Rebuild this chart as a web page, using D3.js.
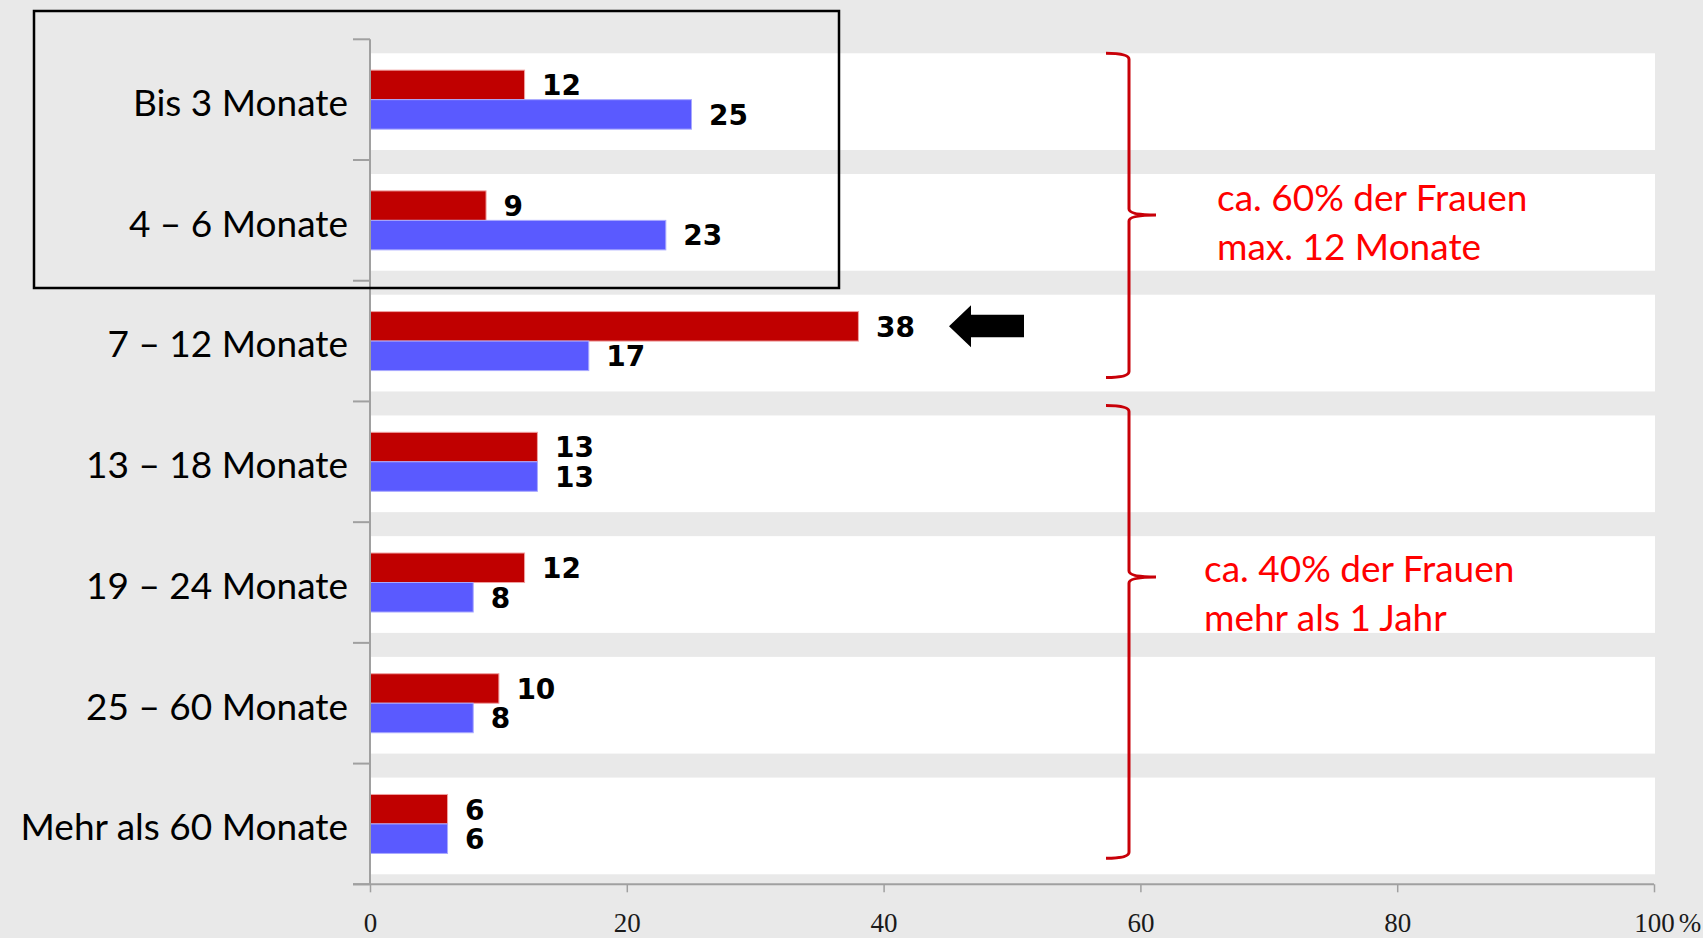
<!DOCTYPE html>
<html>
<head>
<meta charset="utf-8">
<script src="https://cdn.jsdelivr.net/npm/d3@7"></script>
<style>
  html, body { margin: 0; padding: 0; background: #e9e9e9; }
  svg { display: block; }
</style>
</head>
<body>
<svg id="chart" width="1703" height="938"></svg>
<script>
// Dauer in Monaten, Anteile in Prozent
const categories = ["Bis 3 Monate", "4 – 6 Monate", "7 – 12 Monate", "13 – 18 Monate",
                    "19 – 24 Monate", "25 – 60 Monate", "Mehr als 60 Monate"];
const frauen  = [12, 9, 38, 13, 12, 10, 6];
const maenner = [25, 23, 17, 13, 8, 8, 6];
const xTicks = [0, 20, 40, 60, 80, 100];
const noteTop = ["ca. 60% der Frauen", "max. 12 Monate"];
const noteBottom = ["ca. 40% der Frauen", "mehr als 1 Jahr"];

const svg = d3.select("#chart");
const plotLeft = 370, plotRight = 1654, plotTop = 39.3, plotBottom = 884.3;

const x = d3.scaleLinear().domain([0, 100]).range([plotLeft, plotRight]);
const y = d3.scaleBand().domain(categories).range([plotTop, plotBottom]).padding(0);
const bw = y.bandwidth();

const RED = "#c00000", BLUE = "#5a5aff";

// weiße Streifen je Kategorie
svg.append("g").selectAll("rect")
  .data(categories).join("rect")
  .attr("x", x(0)).attr("width", x(100) - x(0) + 1)
  .attr("y", d => y(d) + 14)
  .attr("height", bw - 24)
  .attr("fill", "#ffffff");

// Balken
const series = [
  { key: "frauen", values: frauen, color: RED, light: "#f0a0a0" },
  { key: "maenner", values: maenner, color: BLUE, light: "#a9a9ff" }
];
const barH = 29.5;
const sub = d3.scaleBand().domain(series.map(s => s.key)).range([-barH, barH]).padding(0);

const bars = svg.append("g");
series.forEach(s => {
  bars.selectAll("rect." + s.key)
    .data(categories).join("rect")
    .attr("class", s.key)
    .attr("x", x(0) + 0.5)
    .attr("y", d => y(d) + bw / 2 + sub(s.key))
    .attr("width", (d, i) => x(s.values[i]) - x(0))
    .attr("height", sub.bandwidth())
    .attr("fill", s.color)
    .attr("stroke", s.light)
    .attr("stroke-width", 1);
});

// Werte
series.forEach(s => {
  bars.selectAll("text." + s.key)
    .data(categories).join("text")
    .attr("class", s.key)
    .attr("x", (d, i) => x(s.values[i]) + 18)
    .attr("y", d => y(d) + bw / 2 + sub(s.key) + sub.bandwidth() / 2)
    .attr("dy", "0.37em")
    .attr("font-family", "'DejaVu Sans', Verdana, sans-serif")
    .attr("font-weight", "bold")
    .attr("font-size", 28)
    .attr("fill", "#000")
    .text((d, i) => s.values[i]);
});

// y-Achse: Linie, Trennstriche, Beschriftung
const axisColor = "#a0a0a0";
svg.append("line")
  .attr("x1", plotLeft).attr("x2", plotLeft)
  .attr("y1", plotTop).attr("y2", plotBottom)
  .attr("stroke", axisColor).attr("stroke-width", 2);
const bounds = categories.map(c => y(c)).concat([plotBottom]);
svg.append("g").selectAll("line")
  .data(bounds).join("line")
  .attr("x1", plotLeft - 17).attr("x2", plotLeft)
  .attr("y1", d => d).attr("y2", d => d)
  .attr("stroke", axisColor).attr("stroke-width", 2);

const yAxis = svg.append("g")
  .attr("transform", `translate(${plotLeft},0)`)
  .call(d3.axisLeft(y).tickSize(0).tickPadding(22));
yAxis.select(".domain").remove();
yAxis.selectAll("text")
  .attr("font-family", "Lato, 'Open Sans', sans-serif")
  .attr("font-size", 37)
  .attr("fill", "#000")
  .attr("dy", "0.44em");

// x-Achse
const xAxis = svg.append("g")
  .attr("transform", `translate(0,${plotBottom})`)
  .call(d3.axisBottom(x).tickValues(xTicks).tickSize(8).tickPadding(21)
        .tickFormat(d => d));
xAxis.select(".domain")
  .attr("d", `M${plotLeft - 17},0H${plotRight}`)
  .attr("stroke", axisColor).attr("stroke-width", 2);
xAxis.selectAll(".tick line").attr("stroke", axisColor).attr("stroke-width", 1.5);
xAxis.selectAll(".tick text")
  .attr("font-family", "'Liberation Serif', 'Times New Roman', serif")
  .attr("font-size", 27)
  .attr("fill", "#1a1a1a");
// Prozentzeichen hinter dem letzten Wert
const lastTick = xAxis.selectAll(".tick").filter(d => d === 100);
const lastText = lastTick.select("text");
const halfW = lastText.node().getComputedTextLength() / 2;
lastTick.append("text")
  .attr("x", halfW + 4)
  .attr("y", lastText.attr("y"))
  .attr("dy", lastText.attr("dy"))
  .attr("text-anchor", "start")
  .attr("font-family", "'Liberation Serif', 'Times New Roman', serif")
  .attr("font-size", 27)
  .attr("fill", "#1a1a1a")
  .text("%");

// Geschweifte Klammern
function brace(x0, xLine, xTip, yTop, yMid, yBot) {
  const r = 6;
  return `M${x0},${yTop} Q${xLine},${yTop} ${xLine},${yTop + r}` +
         ` L${xLine},${yMid - r} Q${xLine},${yMid} ${xTip},${yMid}` +
         ` Q${xLine},${yMid} ${xLine},${yMid + r}` +
         ` L${xLine},${yBot - r} Q${xLine},${yBot} ${x0},${yBot}`;
}
const braceG = svg.append("g")
  .attr("fill", "none").attr("stroke", "#c80008").attr("stroke-width", 3);
braceG.append("path").attr("d", brace(1106, 1129, 1156, y(categories[0]) + 14, 215, y(categories[2]) + bw - 24));
braceG.append("path").attr("d", brace(1106, 1129, 1156, y(categories[3]) + 4, 577, y(categories[6]) + bw - 26));

// Anmerkungen
function note(lines, x0, y0) {
  const t = svg.append("text")
    .attr("font-family", "Lato, 'Open Sans', sans-serif")
    .attr("font-size", 37)
    .attr("fill", "#ff0000");
  lines.forEach((l, i) => {
    t.append("tspan").attr("x", x0).attr("y", y0 + i * 49).text(l);
  });
}
note(noteTop, 1217, 211);
note(noteBottom, 1204, 582);

// Pfeil bei 7 – 12 Monate
const ay = y(categories[2]) + bw / 2 + sub("frauen") + sub.bandwidth() / 2;
svg.append("path")
  .attr("d", `M949,${ay} L971,${ay - 21} L971,${ay - 11.5} L1024,${ay - 11.5}` +
             ` L1024,${ay + 11} L971,${ay + 11} L971,${ay + 21} Z`)
  .attr("fill", "#000");

// Rahmen um die ersten beiden Kategorien
svg.append("rect")
  .attr("x", 34).attr("y", 11)
  .attr("width", 805).attr("height", 277)
  .attr("fill", "none")
  .attr("stroke", "#000").attr("stroke-width", 2.5);
</script>
</body>
</html>
